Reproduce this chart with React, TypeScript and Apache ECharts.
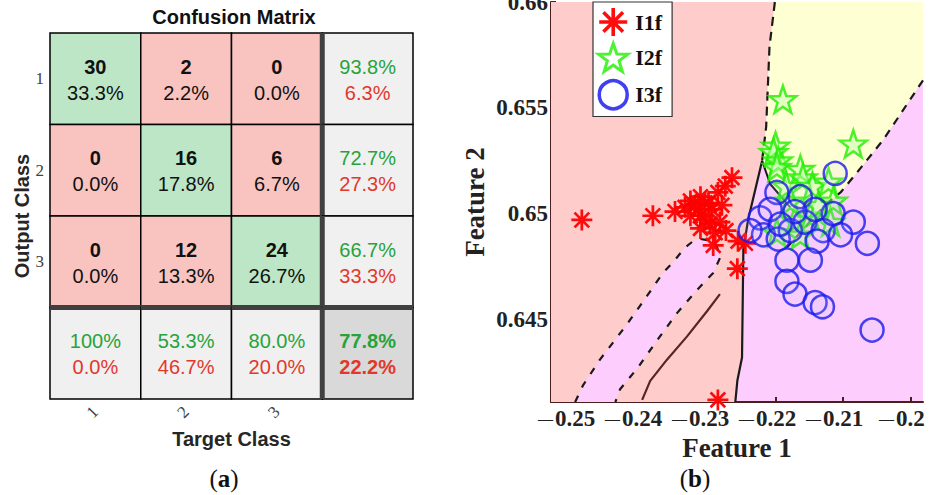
import React, { useEffect, useRef } from 'react';
import * as echarts from 'echarts';

// ---------- Confusion matrix (a) ----------
const targetClasses = ['1', '2', '3', ''];
const outputClasses = ['1', '2', '3', ''];
const counts = [
  [30, 2, 0],
  [0, 16, 6],
  [0, 12, 24],
];
const cellPercents = [
  ['33.3%', '2.2%', '0.0%'],
  ['0.0%', '17.8%', '6.7%'],
  ['0.0%', '13.3%', '26.7%'],
];
const rowCorrect = ['93.8%', '72.7%', '66.7%'];
const rowWrong = ['6.3%', '27.3%', '33.3%'];
const colCorrect = ['100%', '53.3%', '80.0%'];
const colWrong = ['0.0%', '46.7%', '20.0%'];
const overallCorrect = '77.8%';
const overallWrong = '22.2%';

// ---------- Feature scatter (b) ----------
const xTicks = [-0.25, -0.24, -0.23, -0.22, -0.21, -0.2];
const yTicks = [0.645, 0.65, 0.655, 0.66];
const X_MIN = -0.2536;
const X_MAX = -0.1981;
const Y_MIN = 0.6411;
const Y_MAX = 0.66;

const class1 = [
  [-0.249, 0.6497], [-0.2384, 0.6499], [-0.2351, 0.6501], [-0.2328, 0.6506],
  [-0.2313, 0.6508], [-0.2321, 0.6504], [-0.2306, 0.6505], [-0.2287, 0.651],
  [-0.2266, 0.6517], [-0.2276, 0.6513], [-0.2313, 0.6499], [-0.2299, 0.6495],
  [-0.2313, 0.6493], [-0.2284, 0.6496], [-0.2291, 0.6491], [-0.2257, 0.6487],
  [-0.2246, 0.6486], [-0.2294, 0.6485], [-0.2258, 0.6474], [-0.2287, 0.6412],
  [-0.2301, 0.6505], [-0.2296, 0.6502], [-0.2336, 0.6503], [-0.2316, 0.6502],
  [-0.2281, 0.6504], [-0.2306, 0.6497], [-0.2275, 0.6492], [-0.2328, 0.6499],
];
const class2 = [
  [-0.219, 0.6554], [-0.2085, 0.6533], [-0.2201, 0.6532], [-0.2204, 0.6529],
  [-0.2197, 0.6525], [-0.2199, 0.6522], [-0.2164, 0.6521], [-0.216, 0.6517],
  [-0.2146, 0.6513], [-0.2122, 0.6515], [-0.2115, 0.6506], [-0.2119, 0.6496],
  [-0.2149, 0.6499], [-0.2172, 0.6497], [-0.2199, 0.6491], [-0.2179, 0.6506],
  [-0.2137, 0.6504], [-0.2185, 0.6513], [-0.2164, 0.649],
];
const class3 = [
  [-0.2112, 0.6519], [-0.2199, 0.651], [-0.2224, 0.6498], [-0.2164, 0.6508],
  [-0.2219, 0.649], [-0.2197, 0.6488], [-0.2179, 0.6492], [-0.2157, 0.6496],
  [-0.213, 0.6492], [-0.2115, 0.65], [-0.2085, 0.6496], [-0.2064, 0.6486],
  [-0.2139, 0.6487], [-0.2184, 0.6478], [-0.2149, 0.6478], [-0.2184, 0.6468],
  [-0.2172, 0.6462], [-0.2142, 0.6458], [-0.2131, 0.6456], [-0.2057, 0.6445],
  [-0.2239, 0.6492], [-0.2209, 0.6502], [-0.2142, 0.6502], [-0.2104, 0.649],
  [-0.2172, 0.6501], [-0.2194, 0.6495],
];

// decision regions (outline vertices in data units)
const pinkRegion = [
  [X_MIN, Y_MAX], [-0.2202, Y_MAX], [-0.221, 0.6579], [-0.2215, 0.6541], [-0.2221, 0.6525],
  [-0.2242, 0.6497], [-0.2249, 0.6483], [-0.2251, 0.6432], [-0.2258, 0.6421],
  [-0.2261, Y_MIN], [X_MIN, Y_MIN],
];
const yellowRegion = [
  [-0.2202, Y_MAX], [X_MAX, Y_MAX], [X_MAX, 0.6563], [-0.204, 0.6535], [-0.2078, 0.652],
  [-0.2104, 0.651], [-0.2124, 0.6505], [-0.2142, 0.65], [-0.2179, 0.6503],
  [-0.2209, 0.6514], [-0.2221, 0.6525], [-0.2215, 0.6541], [-0.221, 0.6579],
];
const bandLeftEdge = [
  [-0.25, Y_MIN], [-0.2488, 0.6419], [-0.2463, 0.6431], [-0.2422, 0.6448], [-0.2393, 0.6461],
  [-0.2369, 0.6472], [-0.2354, 0.6477], [-0.2336, 0.6484], [-0.2324, 0.6487],
  [-0.2313, 0.6488], [-0.2294, 0.6487], [-0.2288, 0.6484], [-0.2284, 0.6479],
];
const bandRightEdge = [
  [-0.2284, 0.6479], [-0.2294, 0.6472], [-0.2318, 0.6464], [-0.2348, 0.6453],
  [-0.2378, 0.644], [-0.2407, 0.6427], [-0.2433, 0.6417], [-0.244, Y_MIN],
];
const bandRegion = [...bandLeftEdge, ...bandRightEdge.slice(1)];
const boundaryUpper = [[-0.2202, Y_MAX], [-0.221, 0.6579], [-0.2215, 0.6541], [-0.2221, 0.6525]];
const boundaryLower = [
  [-0.2221, 0.6525], [-0.2242, 0.6497], [-0.2249, 0.6483], [-0.2251, 0.6432],
  [-0.2258, 0.6421], [-0.2261, Y_MIN],
];
const boundaryNotch = [[-0.2221, 0.6525], [-0.2209, 0.6514], [-0.2179, 0.6503]];
const boundaryRight = [
  [X_MAX, 0.6563], [-0.204, 0.6535], [-0.2078, 0.652], [-0.2104, 0.651],
  [-0.2124, 0.6505], [-0.215, 0.6496], [-0.2184, 0.6484],
];
const brownContour = [
  [-0.2284, 0.6462], [-0.2303, 0.6454], [-0.2333, 0.6442], [-0.2363, 0.6431],
  [-0.2388, 0.6421], [-0.24, 0.6412],
];

const regionShapes = [pinkRegion, yellowRegion, bandRegion];
const regionColors = ['#ffcccc', '#ffffd4', '#fdcdfd'];

const GREEN_CELL = '#bce6c5';
const RED_CELL = '#f9c4c0';
const GREY_CELL = '#f0f0f0';
const DARK_CELL = '#d9d9d9';
const GREEN_TXT = '#27a33b';
const RED_TXT = '#e2382c';

const asteriskPath =
  'path://M-1.3,-10L1.3,-10L1.3,10L-1.3,10Z M-10,-1.3L10,-1.3L10,1.3L-10,1.3Z M-7.9,-6.1L-6.1,-7.9L7.9,6.1L6.1,7.9Z M6.1,-7.9L7.9,-6.1L-6.1,7.9L-7.9,6.1Z';
const starPath =
  'path://M0,-10L2.351,-3.236L9.511,-3.09L3.804,1.236L5.878,8.09L0,4L-5.878,8.09L-3.804,1.236L-9.511,-3.09L-2.351,-3.236Z';

type Line = { text: string; color: string; bold: boolean };
type Cell = { col: number; row: number; fill: string; lines: Line[] };

function buildCells(): Cell[] {
  const cells: Cell[] = [];
  for (let r = 0; r < 3; r++) {
    for (let c = 0; c < 3; c++) {
      cells.push({
        col: c,
        row: r,
        fill: r === c ? GREEN_CELL : RED_CELL,
        lines: [
          { text: String(counts[r][c]), color: '#111', bold: true },
          { text: cellPercents[r][c], color: '#111', bold: false },
        ],
      });
    }
  }
  for (let r = 0; r < 3; r++) {
    cells.push({
      col: 3, row: r, fill: GREY_CELL,
      lines: [
        { text: rowCorrect[r], color: GREEN_TXT, bold: false },
        { text: rowWrong[r], color: RED_TXT, bold: false },
      ],
    });
  }
  for (let c = 0; c < 3; c++) {
    cells.push({
      col: c, row: 3, fill: GREY_CELL,
      lines: [
        { text: colCorrect[c], color: GREEN_TXT, bold: false },
        { text: colWrong[c], color: RED_TXT, bold: false },
      ],
    });
  }
  cells.push({
    col: 3, row: 3, fill: DARK_CELL,
    lines: [
      { text: overallCorrect, color: GREEN_TXT, bold: true },
      { text: overallWrong, color: RED_TXT, bold: true },
    ],
  });
  return cells;
}

const SERIF = "'Liberation Serif', 'Times New Roman', serif";
const SANS = "'Liberation Sans', Arial, sans-serif";

export default function App() {
  const ref = useRef<HTMLDivElement>(null);
  useEffect(() => {
    if (!ref.current) return;
    const chart = echarts.init(ref.current, undefined, { renderer: 'svg' });
    const cells = buildCells();
    const fmtX = (v: number) =>
      (v < 0 ? '{m|\u2014}' : '') + '{n|' + String(parseFloat(Math.abs(v).toFixed(3))) + '}';
    const fmtY = (v: number) => String(parseFloat(v.toFixed(3)));
    const axisColor = '#4a1e1e';
    const boundaryLine = (data: number[][], type: any, color: string, width: number) => ({
      type: 'line',
      xAxisIndex: 1,
      yAxisIndex: 1,
      data,
      showSymbol: false,
      symbol: 'none',
      silent: true,
      z: 2,
      lineStyle: { color, width, type },
    });
    const parenText = (x: number, letter: string) => ({
      type: 'text',
      x,
      y: 478,
      style: {
        text: '{n|(}{b|' + letter + '}{n|)}',
        align: 'center',
        verticalAlign: 'middle',
        rich: {
          n: { fontFamily: SERIF, fontSize: 25, fill: '#111' },
          b: { fontFamily: SERIF, fontSize: 25, fontWeight: 'bold', fill: '#111' },
        },
      },
    });

    const option: any = {
      animation: false,
      backgroundColor: '#fff',
      grid: [
        { left: 50, top: 33, width: 363, height: 366, show: false, outerBoundsMode: 'none', containLabel: false },
        {
          left: 551, top: 2, width: 372, height: 400, show: true, backgroundColor: '#fdcdfd', borderWidth: 0,
          outerBoundsMode: 'none', containLabel: false,
        },
      ],
      xAxis: [
        {
          type: 'category',
          gridIndex: 0,
          data: targetClasses,
          axisLine: { show: false },
          axisTick: { show: false },
          axisLabel: { rotate: 45, margin: 10, fontFamily: SERIF, fontSize: 17, color: '#404040' },
          name: 'Target Class',
          nameLocation: 'middle',
          nameGap: 30,
          nameTextStyle: { fontFamily: SANS, fontWeight: 'bold', fontSize: 20, color: '#262626' },
        },
        {
          type: 'value',
          gridIndex: 1,
          min: X_MIN,
          max: X_MAX,
          splitLine: { show: false },
          axisLine: { show: true, lineStyle: { color: axisColor, width: 2 } },
          axisTick: { show: true, inside: true, length: 5, customValues: xTicks, lineStyle: { color: axisColor, width: 2 } },
          axisLabel: {
            customValues: xTicks,
            formatter: fmtX,
            margin: 5,
            padding: [0, 17, 0, 0],
            rich: {
              m: { fontFamily: SERIF, fontSize: 15, fontWeight: 'bold', color: '#222', padding: [0, 2, 0, 0] },
              n: { fontFamily: SERIF, fontWeight: 'bold', fontSize: 23, color: '#222' },
            },
          },
          name: 'Feature 1',
          nameLocation: 'middle',
          nameGap: 31,
          nameTextStyle: { fontFamily: SERIF, fontWeight: 'bold', fontSize: 27, color: '#222' },
        },
      ],
      yAxis: [
        {
          type: 'category',
          gridIndex: 0,
          inverse: true,
          data: outputClasses,
          axisLine: { show: false },
          axisTick: { show: false },
          axisLabel: { margin: 6, fontFamily: SERIF, fontSize: 17, color: '#404040' },
          name: 'Output Class',
          nameLocation: 'middle',
          nameRotate: 90,
          nameGap: 15,
          nameTextStyle: { fontFamily: SANS, fontWeight: 'bold', fontSize: 20, color: '#262626' },
        },
        {
          type: 'value',
          gridIndex: 1,
          min: Y_MIN,
          max: Y_MAX,
          splitLine: { show: false },
          axisLine: { show: true, lineStyle: { color: axisColor, width: 2 } },
          axisTick: { show: true, inside: true, length: 5, customValues: yTicks, lineStyle: { color: axisColor, width: 2 } },
          axisLabel: {
            customValues: yTicks,
            formatter: fmtY,
            fontFamily: SERIF,
            fontWeight: 'bold',
            fontSize: 23,
            color: '#222',
            margin: 3,
          },
          name: 'Feature 2',
          nameLocation: 'middle',
          nameRotate: 90,
          nameGap: 63,
          nameTextStyle: { fontFamily: SERIF, fontWeight: 'bold', fontSize: 27, color: '#222' },
        },
      ],
      legend: {
        orient: 'vertical',
        left: 593,
        top: 2,
        padding: [6, 10, 6, 4],
        itemGap: 6,
        itemWidth: 34,
        itemHeight: 28,
        backgroundColor: '#fff',
        borderColor: '#333',
        borderWidth: 1.2,
        borderRadius: 0,
        textStyle: { fontFamily: SERIF, fontWeight: 'bold', fontSize: 22, color: '#111' },
        data: [
          { name: 'I1f', itemStyle: { color: '#ff0000', borderWidth: 0 } },
          { name: 'I2f', itemStyle: { color: '#ffffff', borderColor: '#22ee00', borderWidth: 3 } },
          { name: 'I3f', itemStyle: { color: 'rgba(255,255,255,0)', borderColor: '#1010ee', borderWidth: 3.5 } },
        ],
      },
      graphic: [
        {
          type: 'text',
          x: 234,
          y: 17,
          style: {
            text: 'Confusion Matrix',
            align: 'center',
            verticalAlign: 'middle',
            fontFamily: SANS,
            fontWeight: 'bold',
            fontSize: 20,
            fill: '#111',
          },
        },
        parenText(224, 'a'),
        parenText(695, 'b'),
      ],
      series: [
        {
          type: 'custom',
          name: 'matrix',
          xAxisIndex: 0,
          yAxisIndex: 0,
          clip: false,
          silent: true,
          data: cells.map((c) => [c.col, c.row]),
          renderItem: (params: any, api: any) => {
            const cell = cells[params.dataIndex];
            const p = api.coord([cell.col, cell.row]);
            const s = api.size([1, 1]);
            const x0 = p[0] - s[0] / 2;
            const y0 = p[1] - s[1] / 2;
            const children: any[] = [
              {
                type: 'rect',
                shape: { x: x0, y: y0, width: s[0], height: s[1] },
                style: { fill: cell.fill, stroke: '#000', lineWidth: 1.5 },
              },
            ];
            if (cell.col === 3) {
              children.push({
                type: 'line',
                shape: { x1: x0, y1: y0, x2: x0, y2: y0 + s[1] },
                style: { stroke: '#404040', lineWidth: 5 },
              });
            }
            if (cell.row === 3) {
              children.push({
                type: 'line',
                shape: { x1: x0, y1: y0, x2: x0 + s[0], y2: y0 },
                style: { stroke: '#404040', lineWidth: 5 },
              });
            }
            cell.lines.forEach((ln, i) => {
              children.push({
                type: 'text',
                style: {
                  text: ln.text,
                  x: p[0],
                  y: p[1] + (i === 0 ? -12 : 14),
                  align: 'center',
                  verticalAlign: 'middle',
                  fontFamily: SANS,
                  fontSize: 20,
                  fontWeight: ln.bold ? 'bold' : 'normal',
                  fill: ln.color,
                },
              });
            });
            return { type: 'group', children };
          },
        },
        {
          type: 'custom',
          name: 'regions',
          xAxisIndex: 1,
          yAxisIndex: 1,
          clip: true,
          silent: true,
          z: 1,
          data: regionShapes.map((r) => r[0]),
          renderItem: (params: any, api: any) => {
            const pts = regionShapes[params.dataIndex].map((pt) => api.coord(pt));
            return {
              type: 'polygon',
              shape: { points: pts },
              style: { fill: regionColors[params.dataIndex], stroke: null },
            };
          },
        },
        boundaryLine(boundaryUpper, [9, 6], '#1a1a1a', 2.2),
        boundaryLine(boundaryLower, 'solid', '#1a1a1a', 2.2),
        boundaryLine(boundaryNotch, 'solid', '#1a1a1a', 2),
        boundaryLine(boundaryRight, [8, 7], '#1a1a1a', 2.2),
        boundaryLine(bandLeftEdge, [7, 9], '#1a1a1a', 2.2),
        boundaryLine(bandRightEdge, [7, 9], '#1a1a1a', 2.2),
        boundaryLine(brownContour, 'solid', '#5a2424', 2.2),
        {
          type: 'scatter',
          name: 'I1f',
          xAxisIndex: 1,
          yAxisIndex: 1,
          z: 3,
          symbol: asteriskPath,
          symbolSize: 21,
          itemStyle: { color: '#ff0000', opacity: 0.95 },
          data: class1,
        },
        {
          type: 'scatter',
          name: 'I2f',
          xAxisIndex: 1,
          yAxisIndex: 1,
          z: 3,
          symbol: starPath,
          symbolSize: 27,
          itemStyle: { color: 'rgba(190,255,170,0.55)', borderColor: '#22ee00', borderWidth: 2.5 },
          data: class2,
        },
        {
          type: 'scatter',
          name: 'I3f',
          xAxisIndex: 1,
          yAxisIndex: 1,
          z: 3,
          symbol: 'circle',
          symbolSize: 23,
          itemStyle: { color: 'rgba(200,200,255,0.15)', borderColor: '#1a1aee', borderWidth: 2.5 },
          data: class3,
        },
      ],
    };
    chart.setOption(option);
    return () => chart.dispose();
  }, []);
  return (
    <div
      ref={ref}
      style={{ position: 'absolute', left: 0, top: 0, width: 931, height: 495, background: '#fff' }}
    />
  );
}
